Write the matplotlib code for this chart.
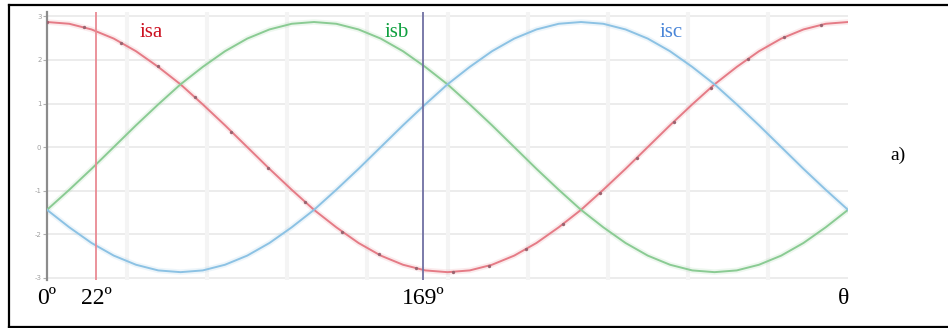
import numpy as np
import matplotlib
matplotlib.use("Agg")
import matplotlib.pyplot as plt
from matplotlib.lines import Line2D
import matplotlib.transforms as mtransforms

plt.rcParams['font.family'] = ['Liberation Serif', 'DejaVu Serif']

# phase currents sampled every 10 degrees
theta = list(range(0, 361, 10))
isa = [2.87, 2.83, 2.70, 2.49, 2.20, 1.84, 1.44, 0.98, 0.50, 0.00,
       -0.50, -0.98, -1.44, -1.84, -2.20, -2.49, -2.70, -2.83, -2.87,
       -2.83, -2.70, -2.49, -2.20, -1.84, -1.44, -0.98, -0.50, 0.00,
       0.50, 0.98, 1.44, 1.84, 2.20, 2.49, 2.70, 2.83, 2.87]
isb = [-1.44, -0.98, -0.50, 0.00, 0.50, 0.98, 1.44, 1.84, 2.20, 2.49,
       2.70, 2.83, 2.87, 2.83, 2.70, 2.49, 2.20, 1.84, 1.44,
       0.98, 0.50, 0.00, -0.50, -0.98, -1.44, -1.84, -2.20, -2.49,
       -2.70, -2.83, -2.87, -2.83, -2.70, -2.49, -2.20, -1.84, -1.44]
isc = [-1.44, -1.84, -2.20, -2.49, -2.70, -2.83, -2.87, -2.83, -2.70, -2.49,
       -2.20, -1.84, -1.44, -0.98, -0.50, 0.00, 0.50, 0.98, 1.44,
       1.84, 2.20, 2.49, 2.70, 2.83, 2.87, 2.83, 2.70, 2.49,
       2.20, 1.84, 1.44, 0.98, 0.50, 0.00, -0.50, -0.98, -1.44]

# sample dots on isa
dot_theta = [0, 16.6, 33.1, 49.7, 66.3, 82.9, 99.4, 116.0, 132.6, 149.1, 165.7,
             182.3, 198.8, 215.4, 232.0, 248.6, 265.1, 281.7, 298.3, 314.9, 331.4, 348.0]
dot_isa = [2.87, 2.75, 2.40, 1.86, 1.15, 0.35, -0.47, -1.26, -1.94, -2.46, -2.78,
           -2.87, -2.72, -2.34, -1.77, -1.05, -0.25, 0.58, 1.36, 2.03, 2.52, 2.81]

markers = [22, 169]
marker_labels = ['22º', '169º']
y_ticks = [-3, -2, -1, 0, 1, 2, 3]
x_grid = [36, 72, 108, 144, 180, 216, 252, 288, 324]

W, H = 948, 328
fig = plt.figure(figsize=(W / 100, H / 100), dpi=100)
ax = fig.add_axes([47 / W, 1 - 280 / H, 801 / W, 268 / H])
ax.set_xlim(0, 360)
ax.set_ylim(-3.05, 3.1)

for y in y_ticks:
    ax.axhline(y, color='#ececec', lw=1.4, zorder=0)
for x in x_grid:
    ax.axvline(x, color='#f4f4f4', lw=3, zorder=0)

series = [(isa, '#e57b86'), (isb, '#8acb93'), (isc, '#8cc2e4')]
for vals, col in series:
    ax.plot(theta, vals, color=col, lw=4, alpha=0.15, solid_joinstyle='round', zorder=2)
    ax.plot(theta, vals, color=col, lw=1.4, solid_joinstyle='round', zorder=3)
ax.plot(dot_theta, dot_isa, 'o', ms=2.4, color='#9a6470', mec='none', zorder=4)

ax.axvline(markers[0], color='#e98a93', lw=1.3, zorder=5)
ax.axvline(markers[1], color='#7070a2', lw=1.3, zorder=5)

for s in ['top', 'right', 'bottom']:
    ax.spines[s].set_visible(False)
ax.spines['left'].set_color('#8c8c8c')
ax.spines['left'].set_linewidth(1.6)
ax.set_xticks([])
ax.set_yticks(y_ticks)
ax.set_yticklabels([str(v) for v in y_ticks], fontsize=5, color='#a0a0a0',
                   family='DejaVu Sans')
ax.tick_params(axis='y', length=3, width=0.8, color='#b0b0b0', pad=1)

# angle labels under the axis
trans = mtransforms.blended_transform_factory(ax.transData, ax.transAxes)
ax.text(0, -0.09, '0º', transform=trans, ha='center', va='baseline', fontsize=17)
for m, lab in zip(markers, marker_labels):
    ax.text(m, -0.09, lab, transform=trans, ha='center', va='baseline', fontsize=17)
ax.text(358, -0.09, 'θ', transform=trans, ha='center', va='baseline', fontsize=17)

# curve names
ax.text(46.7, 0.907, 'isa', transform=trans, ha='center', va='baseline', fontsize=15, color='#cc1020')
ax.text(157.3, 0.907, 'isb', transform=trans, ha='center', va='baseline', fontsize=15, color='#10a040')
ax.text(280.4, 0.907, 'isc', transform=trans, ha='center', va='baseline', fontsize=15, color='#4a86d8')

fig.text(898 / W, 1 - 155 / H, 'a)', ha='center', va='center', fontsize=14)

# frame around the figure (open on the right)
def px(x, y):
    return x / W, 1 - y / H

for (x0, y0), (x1, y1) in [((9, 5), (W + 5, 5)), ((9, 5), (9, 327)), ((9, 327), (W + 5, 327))]:
    (a, b), (c, d) = px(x0, y0), px(x1, y1)
    fig.add_artist(Line2D([a, c], [b, d], color='black', lw=1.6, transform=fig.transFigure))

fig.savefig('out.png', dpi=100)
